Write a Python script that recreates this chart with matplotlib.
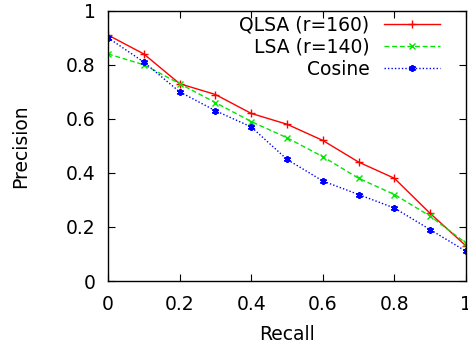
import matplotlib
matplotlib.use("Agg")
import matplotlib.pyplot as plt

recall = [0.0, 0.1, 0.2, 0.3, 0.4, 0.5, 0.6, 0.7, 0.8, 0.9, 1.0]
qlsa = [0.91, 0.84, 0.73, 0.69, 0.62, 0.58, 0.52, 0.44, 0.38, 0.25, 0.13]
lsa = [0.84, 0.80, 0.73, 0.66, 0.59, 0.53, 0.46, 0.38, 0.32, 0.24, 0.14]
cosine = [0.90, 0.81, 0.70, 0.63, 0.57, 0.45, 0.37, 0.32, 0.27, 0.19, 0.11]
labels = ["QLSA (r=160)", "LSA (r=140)", "Cosine"]
xticks = [0, 0.2, 0.4, 0.6, 0.8, 1]
xticklabels = ["0", "0.2", "0.4", "0.6", "0.8", "1"]
yticks = [0, 0.2, 0.4, 0.6, 0.8, 1]
yticklabels = ["0", "0.2", "0.4", "0.6", "0.8", "1"]

plt.rcParams['font.family'] = ['DejaVu Sans']
fig = plt.figure(figsize=(4.68, 3.51), dpi=100)
ax = fig.add_axes([0.2308, 0.1994, 0.7649, 0.7701])

ax.plot(recall, qlsa, color='#ff0000', linestyle='-', marker='+', markersize=6,
        markeredgewidth=1, linewidth=1, label=labels[0])
ax.plot(recall, lsa, color='#00e600', linestyle=(0, (3.5, 2)), marker='x', markersize=4.5,
        markeredgewidth=1, linewidth=1, label=labels[1])
ax.plot(recall, cosine, color='#0000ff', linestyle=(0, (1, 1.5)), marker=(6, 2, 0), markersize=5,
        markeredgewidth=1.3, linewidth=1, label=labels[2])

ax.set_xlim(0, 1)
ax.set_ylim(0, 1)
ax.set_xticks(xticks)
ax.set_xticklabels(xticklabels)
ax.set_yticks(yticks)
ax.set_yticklabels(yticklabels)
ax.tick_params(direction='in', top=True, right=True, length=5, labelsize=13.5)
ax.tick_params(axis='x', pad=10)
ax.tick_params(axis='y', pad=9)
for s in ax.spines.values():
    s.set_linewidth(1)
ax.set_xlabel("Recall", fontsize=13.5, labelpad=8)
ax.set_ylabel("Precision", fontsize=13.5, labelpad=26)

ax.legend(loc='upper right', frameon=False, markerfirst=False, fontsize=13.5,
          handlelength=3.0, handletextpad=0.75, labelspacing=0.17,
          borderaxespad=0.0, bbox_to_anchor=(0.948, 1.011))

fig.savefig("out.png", dpi=100)
